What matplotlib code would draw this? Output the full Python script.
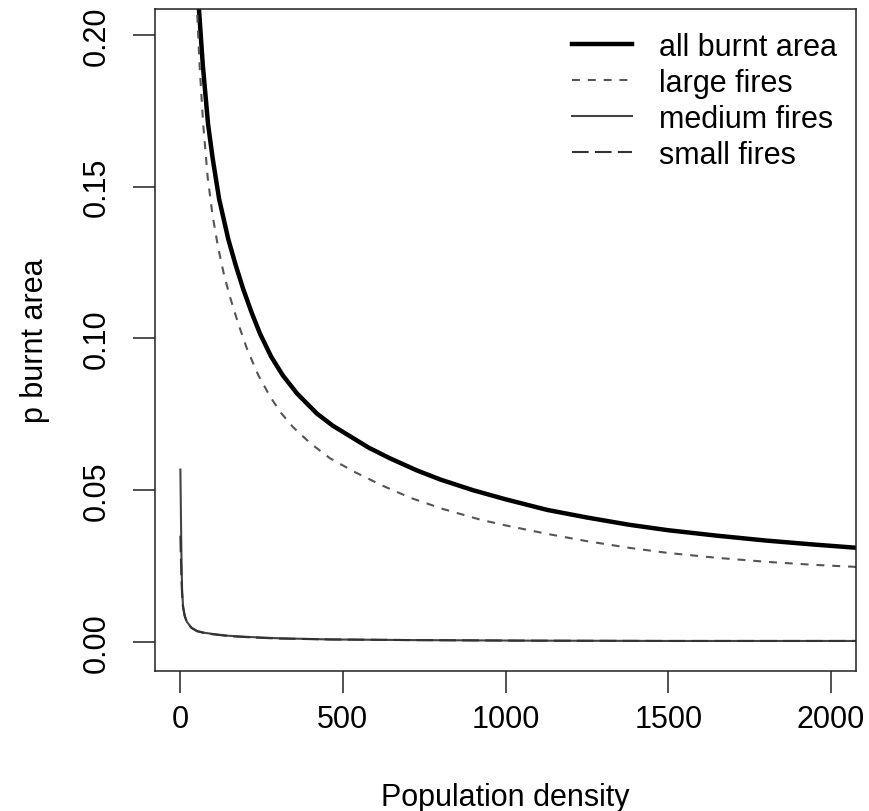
import numpy as np
import matplotlib.pyplot as plt

plt.rcParams['font.family'] = ['Liberation Sans', 'DejaVu Sans']

# values
x_all = [55, 58, 70, 86, 100, 120, 148, 170, 194, 220, 246, 280, 316, 360, 421, 470, 522,
         580, 645, 728, 800, 900, 1000, 1128, 1250, 1380, 1500, 1650, 1800, 1945, 2080]
y_all = [0.214, 0.2086, 0.190, 0.1707, 0.1595, 0.1460, 0.1328, 0.1245, 0.1163, 0.1085,
         0.1015, 0.0940, 0.0878, 0.0818, 0.0752, 0.0712, 0.0678, 0.0640, 0.0605, 0.0565,
         0.0535, 0.0500, 0.0470, 0.0435, 0.0410, 0.0386, 0.0368, 0.0350, 0.0334, 0.0321, 0.0310]

x_large = [49, 52, 60, 71, 85, 100, 117, 135, 154, 180, 206, 240, 277, 310, 347, 400, 461,
           540, 624, 710, 808, 922, 1000, 1128, 1250, 1380, 1500, 1650, 1800, 1945, 2080]
y_large = [0.214, 0.2086, 0.190, 0.1707, 0.1530, 0.1405, 0.1300, 0.1210, 0.1135, 0.1045,
           0.0965, 0.0880, 0.0808, 0.0755, 0.0708, 0.0655, 0.0605, 0.0558, 0.0514, 0.0474,
           0.0438, 0.0403, 0.0384, 0.0356, 0.0332, 0.0310, 0.0293, 0.0277, 0.0264, 0.0254, 0.0247]

x_medium = [1, 2, 4, 6, 9, 14, 21, 35, 52, 75, 101, 150, 215, 300, 461, 700, 1075, 1500, 2080]
y_medium = [0.0568, 0.0480, 0.0300, 0.0180, 0.0120, 0.0088, 0.0066, 0.0047, 0.0036, 0.0030,
            0.0026, 0.0020, 0.0016, 0.0012, 0.0008, 0.0006, 0.0004, 0.0003, 0.0003]

x_small = [1, 2, 4, 6, 9, 14, 21, 35, 52, 75, 101, 150, 215, 300, 461, 700, 1075, 1500, 2080]
y_small = [0.0350, 0.0300, 0.0220, 0.0160, 0.0115, 0.0086, 0.0064, 0.0046, 0.0035, 0.0029,
           0.0025, 0.0019, 0.0015, 0.0011, 0.0008, 0.0006, 0.0004, 0.0003, 0.0003]

labels = ['all burnt area', 'large fires', 'medium fires', 'small fires']

fig = plt.figure(figsize=(8.69, 8.12), dpi=100)
ax = fig.add_axes([155/869, 1 - 672/812, 701/869, 662/812])

ax.plot(x_all, y_all, color='black', lw=3.2, label=labels[0])
ax.plot(x_large, y_large, color='#555555', lw=1.5, dashes=(3.8, 3.8), label=labels[1])
ax.plot(x_medium, y_medium, color='#444444', lw=1.5, label=labels[2])
ax.plot(x_small, y_small, color='#333333', lw=1.5, dashes=(8, 3), label=labels[3])

ax.set_xlim(-77, 2077)
ax.set_ylim(-0.0096, 0.2086)
ax.set_xticks([0, 500, 1000, 1500, 2000])
ax.set_yticks([0.0, 0.05, 0.10, 0.15, 0.20])
ax.set_yticklabels(['0.00', '0.05', '0.10', '0.15', '0.20'])

for s in ax.spines.values():
    s.set_linewidth(1.1)
    s.set_color('#222222')

ax.tick_params(axis='both', length=16, width=1.1, color='#222222', labelsize=22)
ax.tick_params(axis='x', pad=8)
ax.tick_params(axis='y', pad=15)
for t in ax.get_yticklabels():
    t.set_rotation(90)
    t.set_va('center')

ax.set_xlabel('Population density', fontsize=22)
ax.set_ylabel('p burnt area', fontsize=22)
ax.xaxis.set_label_coords(0.5, -0.19)
ax.yaxis.set_label_coords(-0.171, 0.5)
ax.xaxis.label.set_va('center')
ax.yaxis.label.set_va('center')

ax.legend(loc='upper left', bbox_to_anchor=(0.595, 0.966), frameon=False, fontsize=22,
          handlelength=1.95, handletextpad=0.9, labelspacing=0.2, borderpad=0, borderaxespad=0)

fig.savefig('out.png', dpi=100)
